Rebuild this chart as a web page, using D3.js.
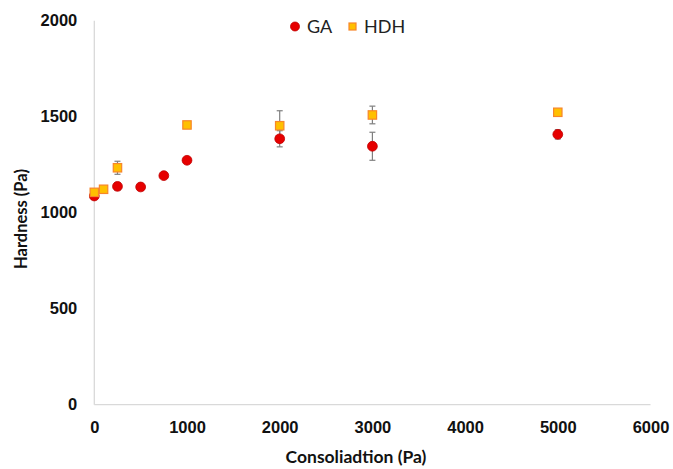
<!DOCTYPE html>
<html lang="en">
<head>
<meta charset="UTF-8">
<title>Hardness vs Consolidation</title>
<script src="https://cdn.jsdelivr.net/npm/d3@7"></script>
<style>
  body { margin: 0; background: #fff; }
  svg { display: block; font-family: Lato, "Open Sans", sans-serif; }
</style>
</head>
<body>
<div id="chart"></div>
<script>
// data
const gaX = [0, 250, 500, 750, 1000, 2000, 3000, 5000];
const gaY = [1087, 1137, 1134, 1193, 1273, 1385, 1346, 1408];
const gaErr = [0, 20, 0, 0, 0, 42, 73, 24];

const hdhX = [0, 100, 250, 1000, 2000, 3000, 5000];
const hdhY = [1106, 1122, 1234, 1457, 1453, 1509, 1523];
const hdhErr = [0, 0, 34, 0, 78, 46, 0];

const xTicks = [0, 1000, 2000, 3000, 4000, 5000, 6000];
const yTicks = [0, 500, 1000, 1500, 2000];

const w = 673, h = 469;

const x = d3.scaleLinear().domain([0, 6000]).range([94.3, 650.5]);
const y = d3.scaleLinear().domain([0, 2000]).range([404.7, 20.7]);

const svg = d3.select('#chart').append('svg')
    .attr('width', w)
    .attr('height', h);

// axes: light gray lines, bold tick labels, no tick marks
const xAxis = d3.axisBottom(x).tickValues(xTicks).tickSize(0).tickPadding(17).tickFormat(d3.format('d'));
const yAxis = d3.axisLeft(y).tickValues(yTicks).tickSize(0).tickPadding(17).tickFormat(d3.format('d'));

const gx = svg.append('g')
    .attr('transform', `translate(0, ${y(0)})`)
    .call(xAxis);
const gy = svg.append('g')
    .attr('transform', `translate(${x(0)}, 0)`)
    .call(yAxis);

[gx, gy].forEach(g => {
    g.select('.domain').attr('stroke', '#d9d9d9').attr('stroke-width', 1.3);
    g.selectAll('text')
        .attr('fill', '#111')
        .style('font-size', '16.5px')
        .style('font-weight', 'bold');
});
gx.select('.domain').attr('d', `M${x(0)},0H${x(6000)}`);
gy.select('.domain').attr('d', `M0,${y(0)}V${y(2000)}`);

// axis titles
svg.append('text')
    .text('Consoliadtion (Pa)')
    .attr('x', 356)
    .attr('y', 463)
    .attr('text-anchor', 'middle')
    .attr('fill', '#111')
    .style('font-size', '17.5px')
    .style('font-weight', 'bold');

svg.append('text')
    .text('Hardness (Pa)')
    .attr('transform', 'translate(27, 219) rotate(-90)')
    .attr('text-anchor', 'middle')
    .attr('fill', '#111')
    .style('font-size', '16.5px')
    .style('font-weight', 'bold');

// error bars
function errorBars(xs, ys, es) {
    const data = xs.map((d, i) => ({ x: d, y: ys[i], e: es[i] })).filter(d => d.e > 0);
    const g = svg.append('g').attr('stroke', '#7f7f7f').attr('stroke-width', 1.2);
    g.selectAll('line.v').data(data).enter().append('line')
        .attr('x1', d => x(d.x)).attr('x2', d => x(d.x))
        .attr('y1', d => y(d.y - d.e)).attr('y2', d => y(d.y + d.e));
    g.selectAll('line.top').data(data).enter().append('line')
        .attr('x1', d => x(d.x) - 3).attr('x2', d => x(d.x) + 3)
        .attr('y1', d => y(d.y + d.e)).attr('y2', d => y(d.y + d.e));
    g.selectAll('line.bot').data(data).enter().append('line')
        .attr('x1', d => x(d.x) - 3).attr('x2', d => x(d.x) + 3)
        .attr('y1', d => y(d.y - d.e)).attr('y2', d => y(d.y - d.e));
}
errorBars(gaX, gaY, gaErr);
errorBars(hdhX, hdhY, hdhErr);

// GA points
svg.append('g').selectAll('circle')
    .data(gaX.map((d, i) => [d, gaY[i]]))
    .enter()
    .append('circle')
    .attr('cx', d => x(d[0]))
    .attr('cy', d => y(d[1]))
    .attr('r', 4.9)
    .attr('fill', '#e60000')
    .attr('stroke', '#c00000')
    .attr('stroke-width', 0.8);

// HDH points
svg.append('g').selectAll('rect')
    .data(hdhX.map((d, i) => [d, hdhY[i]]))
    .enter()
    .append('rect')
    .attr('x', d => x(d[0]) - 4.2)
    .attr('y', d => y(d[1]) - 4.2)
    .attr('width', 8.4)
    .attr('height', 8.4)
    .attr('fill', '#ffc000')
    .attr('stroke', '#f7862a')
    .attr('stroke-width', 1.2);

// legend
const legend = svg.append('g').attr('transform', 'translate(295, 26.5)');
legend.append('circle')
    .attr('cx', 0).attr('cy', 0).attr('r', 4.5)
    .attr('fill', '#e60000').attr('stroke', '#c00000').attr('stroke-width', 0.8);
legend.append('text')
    .text('GA')
    .attr('x', 12).attr('y', 6.5)
    .attr('fill', '#222')
    .style('font-size', '18px');
legend.append('rect')
    .attr('x', 54).attr('y', -3.5).attr('width', 7).attr('height', 7)
    .attr('fill', '#ffc000').attr('stroke', '#f7862a').attr('stroke-width', 1.2);
legend.append('text')
    .text('HDH')
    .attr('x', 69).attr('y', 6.5)
    .attr('fill', '#222')
    .style('font-size', '18px');
</script>
</body>
</html>
